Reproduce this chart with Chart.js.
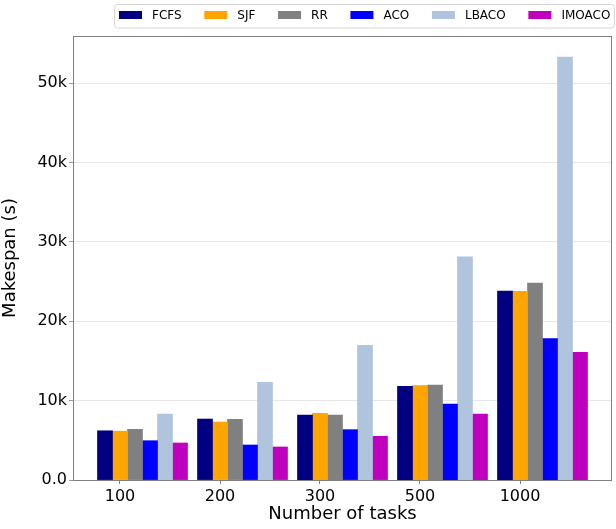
<!DOCTYPE html>
<html lang="en">
<head>
  <meta charset="UTF-8">
  <title>Makespan vs Number of tasks</title>
  <script src="https://cdn.jsdelivr.net/npm/chart.js"></script>
  <style>
    html, body { margin: 0; padding: 0; background: #ffffff; }
    canvas { display: block; }
  </style>
</head>
<body>
  <canvas id="makespanChart" width="616" height="529"></canvas>

  <script>
    const taskCounts = ['100', '200', '300', '500', '1000'];
    const fcfs   = [6200, 7680, 8190, 11800, 23800];
    const sjf    = [6150, 7300, 8400, 11880, 23760];
    const rr     = [6380, 7640, 8190, 11960, 24810];
    const aco    = [4950, 4410, 6340, 9570, 17800];
    const lbaco  = [8310, 12300, 16960, 28120, 53270];
    const imoaco = [4660, 4160, 5500, 8310, 16080];
    const yTicks = [0, 10000, 20000, 30000, 40000, 50000];

    const seriesNames = ['FCFS', 'SJF', 'RR', 'ACO', 'LBACO', 'IMOACO'];
    const seriesData = [fcfs, sjf, rr, aco, lbaco, imoaco];
    const colors = ['#000080', '#ffa500', '#808080', '#0000ff', '#b0c4de', '#bf00bf'];

    // bars sit side by side like matplotlib: x + i*width, tick at x + width
    const barStep = 0.15;
    const dataMin = -barStep / 2;
    const dataMax = (taskCounts.length - 1) + (seriesNames.length - 1) * barStep + barStep / 2;
    const margin = (dataMax - dataMin) * 0.05;

    const datasets = seriesNames.map((name, i) => ({
      label: name,
      data: seriesData[i].map((v, g) => ({ x: g + i * barStep, y: v })),
      backgroundColor: colors[i],
      borderWidth: 0,
      grouped: false,
      barPercentage: 1,
      categoryPercentage: 1
    }));

    const font = "'DejaVu Sans', sans-serif";

    // matplotlib style legend box in the top right
    const legendBox = {
      id: 'legendBox',
      afterDraw(chart) {
        const ctx = chart.ctx;
        ctx.save();
        ctx.beginPath();
        ctx.roundRect(114.5, 4.5, 500, 23.5, 3);
        ctx.fillStyle = 'rgba(255,255,255,0.8)';
        ctx.fill();
        ctx.strokeStyle = '#d6d6d6';
        ctx.lineWidth = 1;
        ctx.stroke();
        ctx.font = '12px ' + font;
        ctx.textBaseline = 'middle';
        let x = 119;
        chart.data.datasets.forEach(ds => {
          ctx.fillStyle = ds.backgroundColor;
          ctx.fillRect(x, 11, 23, 8);
          ctx.fillStyle = '#000000';
          ctx.fillText(ds.label, x + 33, 15.5);
          x += 33 + ctx.measureText(ds.label).width + 22.7;
        });
        ctx.restore();
      }
    };

    // axes frame on all four sides
    const frame = {
      id: 'frame',
      afterDatasetsDraw(chart) {
        const { left, top, right, bottom } = chart.chartArea;
        const ctx = chart.ctx;
        ctx.save();
        ctx.strokeStyle = '#808080';
        ctx.lineWidth = 1;
        ctx.strokeRect(Math.round(left) + 0.5, Math.round(top) + 0.5,
          Math.round(right - left) - 1, Math.round(bottom - top));
        ctx.restore();
      }
    };

    new Chart(document.getElementById('makespanChart'), {
      type: 'bar',
      data: { datasets },
      plugins: [legendBox, frame],
      options: {
        responsive: false,
        animation: false,
        devicePixelRatio: 1,
        layout: { padding: { top: 36, right: 4, left: 0, bottom: 0 } },
        plugins: {
          legend: { display: false },
          tooltip: { enabled: false }
        },
        scales: {
          x: {
            type: 'linear',
            offset: false,
            min: dataMin - margin,
            max: dataMax + margin,
            afterBuildTicks: scale => {
              scale.ticks = taskCounts.map((_, g) => ({ value: g + barStep }));
            },
            afterFit: scale => { scale.height = 49; },
            ticks: {
              autoSkip: false,
              maxRotation: 0,
              padding: 3,
              color: '#000000',
              font: { family: font, size: 16 },
              callback: (v, i) => taskCounts[i]
            },
            grid: {
              offset: false,
              drawOnChartArea: false,
              drawTicks: true,
              tickLength: 4,
              tickColor: '#808080'
            },
            border: { display: false },
            title: {
              display: true,
              text: 'Number of tasks',
              color: '#000000',
              font: { family: font, size: 18 },
              padding: { top: 0, bottom: 4 }
            }
          },
          y: {
            min: 0,
            max: 55930,
            afterBuildTicks: scale => {
              scale.ticks = yTicks.map(v => ({ value: v }));
            },
            afterFit: scale => { scale.width = 73; },
            ticks: {
              padding: 2,
              color: '#000000',
              font: { family: font, size: 16 },
              callback: v => v === 0 ? '0.0' : (v / 1000) + 'k'
            },
            grid: {
              color: 'rgba(0,0,0,0.12)',
              lineWidth: 0.8,
              borderDash: [3, 2],
              tickLength: 4,
              tickColor: '#808080',
              tickBorderDash: []
            },
            border: { display: false },
            title: {
              display: true,
              text: 'Makespan (s)',
              color: '#000000',
              font: { family: font, size: 18 },
              padding: { top: 0, bottom: 8 }
            }
          }
        }
      }
    });
  </script>
</body>
</html>
